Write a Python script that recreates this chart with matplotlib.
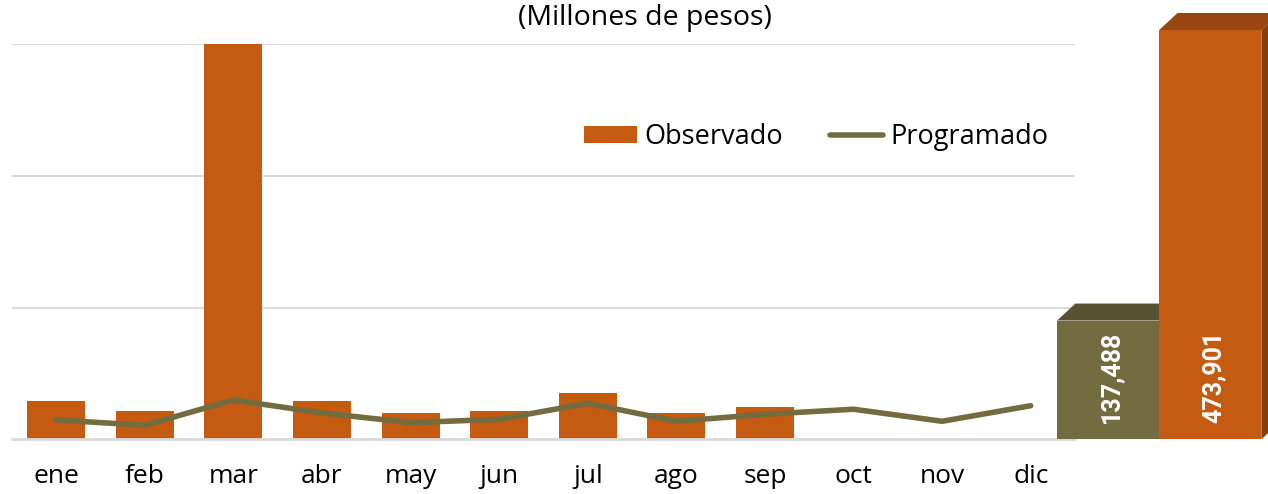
"""Observado vs Programado, monthly with annual totals."""
import matplotlib
matplotlib.use("Agg")
import matplotlib.pyplot as plt
import numpy as np
from matplotlib.patches import Polygon, Patch
from matplotlib.lines import Line2D

plt.rcParams["font.family"] = ["Open Sans", "DejaVu Sans"]

# data (millones de pesos)
months = ["ene", "feb", "mar", "abr", "may", "jun",
          "jul", "ago", "sep", "oct", "nov", "dic"]
observado = [17450, 12900, 353700, 17450, 11850, 12900, 21100, 11850, 14700]
programado = [8800, 6400, 17900, 12000, 7600, 9100,
              16400, 8200, 11400, 13700, 8200, 15300]
total_labels = ["137,488", "473,901"]
total_values = [137488, 473901]

ORANGE = "#C55A11"
OLIVE = "#736C41"
GRID = "#D9D9D9"

W, H = 1268, 494
fig = plt.figure(figsize=(W / 100, H / 100), dpi=100)

base_y = 439.3
top_y = 44
ax = fig.add_axes([12 / W, (H - base_y) / H, 1063 / W, (base_y - top_y) / H])
x = np.arange(len(months))
ax.bar(x[:len(observado)], observado, width=0.655, color=ORANGE, zorder=2)
ax.plot(x, programado, color=OLIVE, lw=4, solid_capstyle="round", zorder=3)
ax.set_xlim(-0.5, len(months) - 0.5)
ax.set_ylim(0, 180000)
ax.set_yticks([60000, 120000, 180000])
ax.yaxis.grid(True, color=GRID, lw=1.4, zorder=0)
ax.tick_params(axis="y", length=0, labelleft=False)
ax.set_xticks(x)
ax.set_xticklabels(months, fontsize=19)
ax.tick_params(axis="x", length=0, pad=18)
for s in ("top", "left", "right"):
    ax.spines[s].set_visible(False)
ax.spines["bottom"].set_color(GRID)
ax.spines["bottom"].set_linewidth(2)

# legend
handles = [Patch(facecolor=ORANGE, label="Observado"),
           Line2D([], [], color=OLIVE, lw=4, solid_capstyle="round",
                  label="Programado")]
fig.legend(handles=handles, loc="center left",
           bbox_to_anchor=(584 / W, 1 - 137 / H), ncol=2, frameon=False,
           fontsize=19.5, handlelength=1.95, handleheight=0.55,
           handletextpad=0.28, columnspacing=1.75, borderpad=0,
           borderaxespad=0)

fig.text(645 / W, 1 - 18 / H, "(Millones de pesos)", ha="center", va="center",
         fontsize=20.5)

# annual totals as pseudo-3D bars
rax = fig.add_axes([1040 / W, (H - base_y) / H, 228 / W, base_y / H])
rax.set_xlim(-0.667, 1.565)
rax.set_ylim(0, 508600)
rax.axis("off")
rax.patch.set_alpha(0)
fronts = [OLIVE, ORANGE]
tops = ["#555132", "#98450F"]
sides = ["#4A462B", "#873C0C"]
dx, dy, w = 0.18, 19700, 1.0
for i, (v, lab) in enumerate(zip(total_values, total_labels)):
    z = 2 + 3 * i
    l, r = i - w / 2, i + w / 2
    rax.add_patch(Polygon([(r, 0), (r, v), (r + dx, v + dy), (r + dx, dy)],
                          closed=True, facecolor=sides[i], edgecolor="none",
                          zorder=z, clip_on=False))
    rax.add_patch(Polygon([(l, v), (l + dx, v + dy), (r + dx, v + dy), (r, v)],
                          closed=True, facecolor=tops[i], edgecolor="none",
                          zorder=z + 1, clip_on=False))
    rax.bar(i, v, width=w, color=fronts[i], zorder=z + 2)
    rax.text(i + 0.03, 18500, lab, rotation=90, ha="center", va="bottom",
             color="white", fontsize=18, fontweight="bold",
             family=["Roboto", "DejaVu Sans"], zorder=20)

fig.savefig("out.png", dpi=100)
